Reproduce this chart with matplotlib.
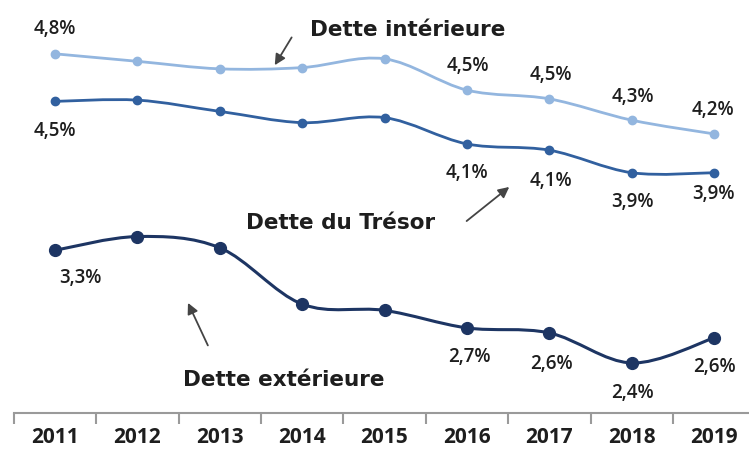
import numpy as np
import matplotlib
matplotlib.use("Agg")
import matplotlib.pyplot as plt
from matplotlib.path import Path
from matplotlib.patches import PathPatch

years = ["2011", "2012", "2013", "2014", "2015", "2016", "2017", "2018", "2019"]

# values as plotted (read from point positions), labels as printed on the chart
interieure = [4.87, 4.81, 4.75, 4.76, 4.83, 4.58, 4.51, 4.34, 4.23]
tresor = [4.49, 4.50, 4.41, 4.32, 4.36, 4.15, 4.10, 3.92, 3.92]
exterieure = [3.30, 3.41, 3.32, 2.87, 2.82, 2.68, 2.64, 2.40, 2.60]

lab_interieure = ["4,8%", "", "", "", "", "4,5%", "4,5%", "4,3%", "4,2%"]
lab_tresor = ["4,5%", "", "", "", "", "4,1%", "4,1%", "3,9%", "3,9%"]
lab_exterieure = ["3,3%", "", "", "", "", "2,7%", "2,6%", "2,4%", "2,6%"]

c_int = "#93b6df"
c_tre = "#31609f"
c_ext = "#1d3563"
txt = "#1e1e1e"
plt.rcParams["font.family"] = ["Open Sans", "DejaVu Sans"]


def smooth(ax, x, y, color, lw):
    # excel-like smoothed line: bezier through every point
    pts = np.column_stack([x, y]).astype(float)
    ext = np.vstack([pts[0], pts, pts[-1]])
    verts = [pts[0]]
    codes = [Path.MOVETO]
    for i in range(len(pts) - 1):
        p0, p1, p2, p3 = ext[i], ext[i + 1], ext[i + 2], ext[i + 3]
        verts += [p1 + (p2 - p0) / 6, p2 - (p3 - p1) / 6, p2]
        codes += [Path.CURVE4] * 3
    ax.add_patch(PathPatch(Path(verts, codes), fill=False, edgecolor=color,
                           lw=lw, capstyle="round"))


fig = plt.figure(figsize=(7.49, 4.5), dpi=100)
ax = fig.add_axes([0.0184, 0.0822, 0.990, 0.9178])
x = np.arange(len(years))

smooth(ax, x, interieure, c_int, 2.0)
smooth(ax, x, tresor, c_tre, 2.0)
smooth(ax, x, exterieure, c_ext, 2.2)
ax.plot(x, interieure, "o", color=c_int, ms=6)
ax.plot(x, tresor, "o", color=c_tre, ms=6)
ax.plot(x, exterieure, "o", color=c_ext, ms=8.5)

lab_font = dict(fontsize=13.5, fontweight="semibold", color=txt,
                ha="center", va="center", textcoords="offset pixels")

off_int = [(0, 25), None, None, None, None, (1, 24), (2, 24), (1, 23), (-1, 24)]
off_tre = [(0, -30), None, None, None, None, (0, -29), (2, -31), (1, -29), (-1, -21)]
off_ext = [(25, -28), None, None, None, None, (2, -29), (2, -31), (1, -30), (0, -29)]

for vals, labs, offs in [(interieure, lab_interieure, off_int),
                         (tresor, lab_tresor, off_tre),
                         (exterieure, lab_exterieure, off_ext)]:
    for i, (v, s) in enumerate(zip(vals, labs)):
        if s:
            ax.annotate(s, (i, v), xytext=offs[i], **lab_font)

# series names with arrows
name_font = dict(fontsize=15.5, fontweight="bold", color=txt,
                 family="DejaVu Sans", ha="center", va="center")
ax.text(4.28, 5.06, "Dette intérieure", **name_font)
ax.text(3.47, 3.52, "Dette du Trésor", **name_font)
ax.text(2.78, 2.26, "Dette extérieure", **name_font)

arr = dict(arrowstyle="-|>", color="#444444", lw=1.3, mutation_scale=16)
ax.annotate("", xy=(2.65, 4.76), xytext=(2.89, 5.02), arrowprops=arr)
ax.annotate("", xy=(5.54, 3.82), xytext=(4.97, 3.52), arrowprops=arr)
ax.annotate("", xy=(1.60, 2.90), xytext=(1.87, 2.52), arrowprops=arr)

ax.set_xlim(-0.5, 8.5)
ax.set_ylim(2.0, 5.3)
for s in ["top", "right", "left"]:
    ax.spines[s].set_visible(False)
ax.spines["bottom"].set_color("#9a9a9a")
ax.spines["bottom"].set_linewidth(1.5)
ax.set_yticks([])
ax.set_xticks(np.arange(-0.5, 8.0, 1.0))
ax.set_xticklabels([])
ax.tick_params(axis="x", length=8, width=1.5, color="#9a9a9a", direction="out")
ax.set_xticks(x, minor=True)
ax.set_xticklabels(years, minor=True, fontsize=15, fontweight="bold", color=txt)
ax.tick_params(axis="x", which="minor", length=0, pad=10)

fig.savefig("out.png", dpi=100)
